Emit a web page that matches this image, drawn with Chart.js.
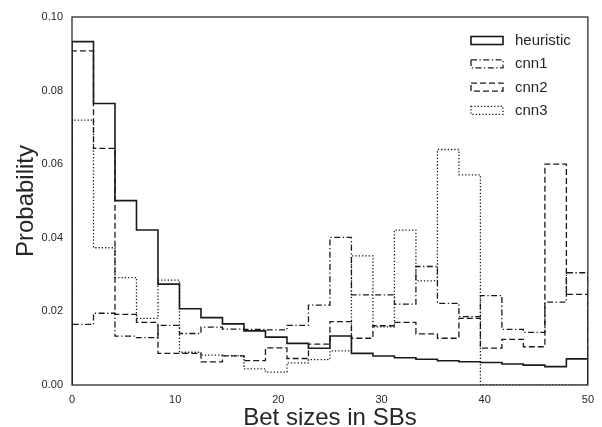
<!DOCTYPE html>
<html lang="en">
<head>
    <meta charset="UTF-8">
    <title>Bet sizes in SBs</title>
    <script src="https://cdn.jsdelivr.net/npm/chart.js"></script>
    <style>
        body { margin: 0; background: #fff; }
        canvas { display: block; }
    </style>
</head>
<body>
    <canvas id="betChart" width="602" height="427"></canvas>

    <script>
        // Histogram data: 24 bins over 0..50 SBs (density)
        const seriesNames = ['heuristic', 'cnn1', 'cnn2', 'cnn3'];
        const heuristic = [0.0933, 0.0765, 0.0501, 0.0421, 0.0274, 0.0207, 0.0183, 0.0166, 0.0147, 0.0130, 0.0113, 0.0100,
                           0.0133, 0.0086, 0.0079, 0.0074, 0.0070, 0.0066, 0.0063, 0.0061, 0.0057, 0.0054, 0.0050, 0.0071];
        const cnn1 = [0.0165, 0.0195, 0.0133, 0.0129, 0.0162, 0.0140, 0.0157, 0.0152, 0.0151, 0.0150, 0.0162, 0.0217,
                      0.0401, 0.0245, 0.0245, 0.0220, 0.0322, 0.0222, 0.0186, 0.0243, 0.0151, 0.0143, 0.0225, 0.0305];
        const cnn2 = [0.0908, 0.0643, 0.0192, 0.0170, 0.0086, 0.0086, 0.0063, 0.0079, 0.0066, 0.0101, 0.0072, 0.0111,
                      0.0172, 0.0127, 0.0161, 0.0170, 0.0139, 0.0127, 0.0181, 0.0100, 0.0124, 0.0104, 0.0600, 0.0246];
        const cnn3 = [0.0720, 0.0373, 0.0292, 0.0181, 0.0285, 0.0089, 0.0081, 0.0080, 0.0044, 0.0035, 0.0060, 0.0069,
                      0.0093, 0.0351, 0.0158, 0.0421, 0.0283, 0.0640, 0.0571, 0, 0, 0, 0, 0];
        const xTicks = [0, 10, 20, 30, 40, 50];
        const yTicks = [0.00, 0.02, 0.04, 0.06, 0.08, 0.10];

        const xMin = 0, xMax = 50, nBins = heuristic.length;
        const binEdges = Array.from({length: nBins + 1}, (_, i) => xMin + i * (xMax - xMin) / nBins);

        // matplotlib-style 'step' outline: up from 0, across each bin, back down at the end
        function stepPoints(values) {
            const pts = [{x: binEdges[0], y: 0}];
            values.forEach((v, i) => pts.push({x: binEdges[i], y: v}));
            pts.push({x: binEdges[nBins], y: 0});
            return pts;
        }

        const ink = '#1a1a1a';
        const styles = {
            heuristic: {width: 1.6, dash: []},
            cnn1: {width: 1.3, dash: [6, 2.5, 1.3, 2.5]},
            cnn2: {width: 1.3, dash: [6, 3]},
            cnn3: {width: 1.3, dash: [1.3, 2]}
        };
        const values = {heuristic, cnn1, cnn2, cnn3};

        const fontFamily = '"Liberation Sans", Arial, Helvetica, sans-serif';

        // frame + in-plot legend
        const framePlugin = {
            id: 'frameAndLegend',
            afterDraw(chart) {
                const {ctx, chartArea: a} = chart;
                ctx.save();
                ctx.strokeStyle = '#262626';
                ctx.lineWidth = 1.25;
                ctx.setLineDash([]);
                ctx.strokeRect(a.left, a.top, a.right - a.left, a.bottom - a.top);

                const boxX = 471, boxW = 32, boxH = 8, rowY0 = 40.5, rowGap = 23.3;
                ctx.font = '15px ' + fontFamily;
                ctx.textBaseline = 'middle';
                ctx.fillStyle = '#262626';
                seriesNames.forEach((name, i) => {
                    const cy = rowY0 + i * rowGap;
                    ctx.strokeStyle = ink;
                    ctx.lineWidth = styles[name].width;
                    ctx.setLineDash(styles[name].dash);
                    ctx.strokeRect(boxX, cy - boxH / 2, boxW, boxH);
                    ctx.setLineDash([]);
                    ctx.fillText(name, 515, cy + 0.5);
                });
                ctx.restore();
            }
        };

        new Chart(document.getElementById('betChart'), {
            type: 'line',
            data: {
                datasets: seriesNames.map(name => ({
                    label: name,
                    data: stepPoints(values[name]),
                    stepped: 'before',
                    borderColor: ink,
                    borderWidth: styles[name].width,
                    borderDash: styles[name].dash,
                    pointRadius: 0,
                    fill: false,
                    tension: 0
                }))
            },
            options: {
                responsive: false,
                animation: false,
                devicePixelRatio: 1,
                layout: { padding: { top: 17, right: 12, left: 0, bottom: 0 } },
                plugins: {
                    legend: { display: false },
                    tooltip: { enabled: false }
                },
                scales: {
                    x: {
                        type: 'linear',
                        min: xMin,
                        max: xMax,
                        grid: { display: false, drawTicks: false },
                        border: { display: false },
                        afterBuildTicks: axis => { axis.ticks = xTicks.map(v => ({value: v})); },
                        afterFit: axis => { axis.height = 42; },
                        ticks: {
                            padding: 8,
                            color: '#262626',
                            font: { size: 11, family: fontFamily },
                            maxRotation: 0
                        },
                        title: {
                            display: true,
                            text: 'Bet sizes in SBs',
                            color: '#262626',
                            font: { size: 24, family: fontFamily, lineHeight: 0.74 },
                            padding: { top: 0, bottom: 0 }
                        }
                    },
                    y: {
                        min: 0,
                        max: 0.1,
                        grid: { display: false, drawTicks: false },
                        border: { display: false },
                        afterBuildTicks: axis => { axis.ticks = yTicks.map(v => ({value: v})); },
                        afterFit: axis => { axis.width = 72; },
                        ticks: {
                            padding: 9,
                            color: '#262626',
                            font: { size: 11, family: fontFamily },
                            callback: v => v.toFixed(2)
                        },
                        title: {
                            display: true,
                            text: 'Probability',
                            color: '#262626',
                            font: { size: 24, family: fontFamily, lineHeight: 1 },
                            padding: { top: 14, bottom: 0 }
                        }
                    }
                }
            },
            plugins: [framePlugin]
        });
    </script>
</body>
</html>
